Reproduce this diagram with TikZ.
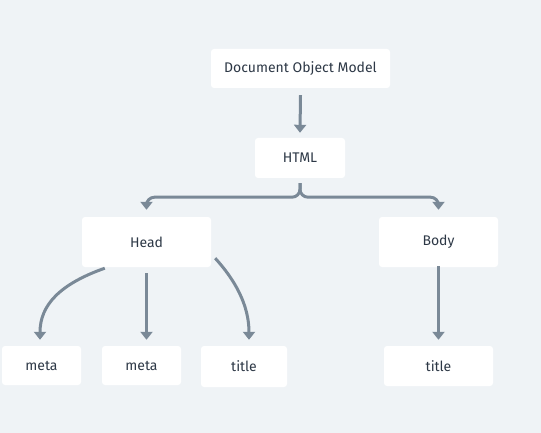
\documentclass[tikz,border=0pt]{standalone}
\usepackage{fontspec}
\setmainfont{Fira Sans}
\usetikzlibrary{arrows.meta,calc}
\definecolor{bg}{HTML}{EFF3F6}
\definecolor{edge}{HTML}{7A8997}
\definecolor{txt}{HTML}{2D3846}
\tikzset{
  box/.style={fill=white, rounded corners=3pt, text=txt, font=\fontsize{14}{16}\selectfont, inner sep=0pt, anchor=center},
  conn/.style={draw=edge, line width=3pt, -{Triangle[width=12pt,length=8pt]}},
}
\begin{document}
\begin{tikzpicture}[x=1pt,y=-1pt]
\fill[bg] (0,0) rectangle (541,433);
\useasboundingbox (0,0) rectangle (541,433);
\node[box, minimum width=179pt, minimum height=39pt] (dom) at (300.5,68.5) {Document Object Model};
\node[box, minimum width=90pt, minimum height=40pt] (html) at (300,158) {HTML};
\node[box, minimum width=129pt, minimum height=50pt] (head) at (146.5,242) {Head};
\node[box, minimum width=119pt, minimum height=50pt] (body) at (438.5,242) {Body};
\node[box, minimum width=79pt, minimum height=39pt] (meta1) at (41.5,365.5) {meta};
\node[box, minimum width=79pt, minimum height=39pt] (meta2) at (141.5,365.5) {meta};
\node[box, minimum width=86pt, minimum height=41pt] (title1) at (244,366.5) {title};
\node[box, minimum width=109pt, minimum height=40pt] (title2) at (438.5,366) {title};
% connectors
\draw[conn] ($(dom.south)+(0,7)$) -- ($(html.north)+(0,-5)$);
\coordinate (fork) at ($(html.south)+(0,5)$);
\draw[conn, rounded corners=8pt] (fork) -- ($(fork)+(0,14)$) -| ($(head.north)+(0,-7)$);
\draw[conn, rounded corners=8pt] (fork) -- ($(fork)+(0,14)$) -| ($(body.north)+(0,-7)$);
\coordinate (h1) at ($(head.south west)+(23,1)$);
\draw[conn] (h1) .. controls (60,284) and (40,305) .. ($(meta1.north)+(-1.5,-6)$);
\draw[conn] ($(head.south)+(0,6)$) -- ($(meta2.north)+(5,-6)$);
\coordinate (h3) at ($(head.south east)+(4,-9)$);
\draw[conn] (h3) .. controls (235,280) and (249,305) .. ($(title1.north)+(5,-6)$);
\draw[conn] ($(body.south)+(0,-1)$) -- ($(title2.north)+(0,-6)$);
\end{tikzpicture}
\end{document}
